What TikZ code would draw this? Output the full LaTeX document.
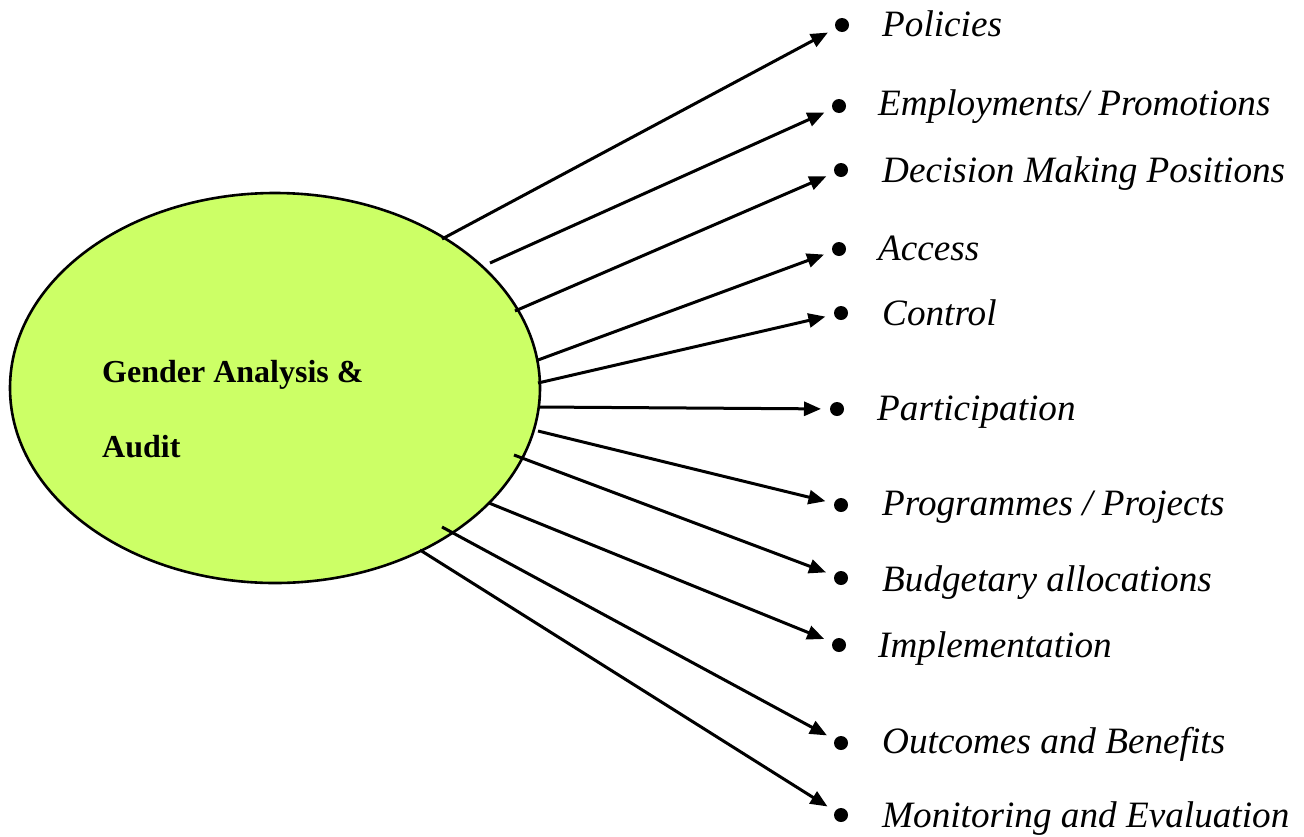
\documentclass[tikz,border=0pt]{standalone}
\usepackage{fontspec}
\setmainfont{Liberation Serif}
\usetikzlibrary{arrows.meta,shapes.geometric}
\definecolor{blobgreen}{RGB}{204,255,102}
\tikzset{
  conn/.style={line width=3pt, -{Triangle[length=17pt,width=14pt]}, shorten >=9pt},
  dot/.style={circle, fill=black, minimum size=14pt, inner sep=0pt, outer sep=0pt},
  item/.style={anchor=base west, inner sep=0pt, font=\fontsize{37.2}{40}\selectfont\itshape},
  title/.style={anchor=base west, inner sep=0pt, font=\fontsize{32}{36}\selectfont\bfseries},
  blob/.style={ellipse, draw=black, line width=2.6pt, fill=blobgreen, minimum width=530pt, minimum height=390pt, inner sep=0pt},
}
\begin{document}
\begin{tikzpicture}[x=1pt,y=-1pt]
\useasboundingbox (0,0) rectangle (1304,836);
\node[blob] (ga) at (275,388) {};
\node[title] (t1) at (102,382) {Gender Analysis \&};
\node[title] (t2) at (102,457) {Audit};
% start points
\coordinate (s1) at (442,239);
\coordinate (s2) at (490,263);
\coordinate (s3) at (515,311);
\coordinate (s4) at (538,360);
\coordinate (s5) at (538,383);
\coordinate (s6) at (538,407);
\coordinate (s7) at (538,431);
\coordinate (s8) at (514,455);
\coordinate (s9) at (489,503);
\coordinate (s10) at (442,527);
\coordinate (s11) at (420,550);
% bullets
\node[dot] (b1) at (842,25) {};
\node[dot] (b2) at (839,106) {};
\node[dot] (b3) at (841,170) {};
\node[dot] (b4) at (839,249) {};
\node[dot] (b5) at (841,313) {};
\node[dot] (b6) at (837,409) {};
\node[dot] (b7) at (841,505) {};
\node[dot] (b8) at (841,578) {};
\node[dot] (b9) at (839,645) {};
\node[dot] (b10) at (841,743) {};
\node[dot] (b11) at (841,815) {};
% labels
\node[item] (l1) at (882,36) {Policies};
\node[item] (l2) at (878,115) {Employments/ Promotions};
\node[item] (l3) at (882,182) {Decision Making Positions};
\node[item] (l4) at (878,260) {Access};
\node[item] (l5) at (882,325) {Control};
\node[item] (l6) at (877,420) {Participation};
\node[item] (l7) at (882,515) {Programmes / Projects};
\node[item] (l8) at (882,591) {Budgetary allocations};
\node[item] (l9) at (878,657) {Implementation};
\node[item] (l10) at (882,753) {Outcomes and Benefits};
\node[item] (l11) at (882,827) {Monitoring and Evaluation};
% connectors
\foreach \i in {1,...,11} {\draw[conn] (s\i) -- (b\i);}
\end{tikzpicture}
\end{document}
